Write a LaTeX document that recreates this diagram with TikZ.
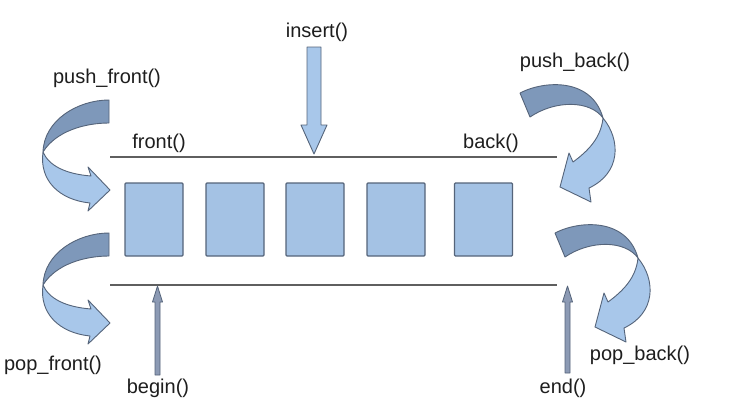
\documentclass[tikz,border=0pt]{standalone}
\usepackage{fontspec}
\setmainfont{Liberation Sans}
\definecolor{boxfill}{RGB}{164,194,228}
\definecolor{boxdraw}{RGB}{85,100,122}
\definecolor{darkpart}{RGB}{126,152,186}
\definecolor{lightpart}{RGB}{168,199,234}
\definecolor{linec}{RGB}{95,95,95}
\definecolor{txt}{RGB}{30,30,30}
\definecolor{thinarrow}{RGB}{140,154,180}
\tikzset{
  elem/.style={draw=boxdraw, fill=boxfill, line width=1.3pt, rounded corners=1pt},
  lbl/.style={font=\fontsize{20}{22}\selectfont, text=txt, inner sep=0pt},
  rail/.style={draw=linec, line width=1.2pt},
  darkface/.style={draw=boxdraw, fill=darkpart, line width=0.9pt, line join=round},
  lightface/.style={draw=boxdraw, fill=lightpart, line width=0.9pt, line join=round},
  thinarr/.style={draw=boxdraw, fill=thinarrow, line width=0.8pt, line join=round},
}
\newcommand{\leftcurl}{%
  \path[lightface] (43,152) .. controls (39,181) and (60,200) .. (90,203)
     -- (88,211) -- (110,190) -- (88,167) -- (91,176)
     .. controls (66,174) and (49,166) .. (43,152) -- cycle;
  \path[darkface] (109,100) .. controls (78,100) and (44,120) .. (43,152)
     .. controls (56,131) and (85,123) .. (109,123) -- cycle;
}
\newcommand{\rightcurl}{%
  \path[lightface] (603,118) .. controls (621,140) and (621,173) .. (589,188)
     -- (591,202) -- (560,187) -- (569,153) -- (573,162)
     .. controls (588,151) and (601,138) .. (603,118) -- cycle;
  \path[darkface] (520,93) .. controls (545,80) and (592,78) .. (603,118)
     .. controls (590,100) and (555,100) .. (530,117) -- cycle;
}
\begin{document}
\begin{tikzpicture}[x=1pt,y=-1pt]
\useasboundingbox (0,0) rectangle (736,405);
\fill[white] (0,0) rectangle (736,405);

% rails
\coordinate (tl) at (110,157); \coordinate (tr) at (557,157);
\coordinate (bl) at (110,285); \coordinate (br) at (557,285);
\draw[rail] (tl) -- (tr);
\draw[rail] (bl) -- (br);

% elements
\node[elem, minimum width=58pt, minimum height=73pt] (e1) at (154,219.5) {};
\node[elem, minimum width=58pt, minimum height=73pt] (e2) at (235,219.5) {};
\node[elem, minimum width=58pt, minimum height=73pt] (e3) at (315,219.5) {};
\node[elem, minimum width=58pt, minimum height=73pt] (e4) at (396,219.5) {};
\node[elem, minimum width=58pt, minimum height=73pt] (e5) at (483.5,219.5) {};

% labels
\node[lbl] (front) at (159,143) {front()};
\node[lbl] (back) at (491,143) {back()};
\node[lbl] (insert) at (317,32) {insert()};
\node[lbl] (pushf) at (107,78) {push\_front()};
\node[lbl] (pushb) at (575,62) {push\_back()};
\node[lbl] (popf) at (53,365) {pop\_front()};
\node[lbl] (popb) at (640,355) {pop\_back()};
\node[lbl] (begin) at (158,388) {begin()};
\node[lbl] (end) at (563,388) {end()};

% insert arrow
\path[lightface] (307,47) -- (321,47) -- (321,125) -- (327,125) -- (314,154)
   -- (301,125) -- (307,125) -- cycle;

% begin / end arrows
\path[thinarr] (155,375) -- (160,375) -- (160,302) -- (162.5,302) -- (157.5,286)
   -- (152.5,302) -- (155,302) -- cycle;
\path[thinarr] (565,373) -- (570,373) -- (570,302) -- (572.5,302) -- (567.5,286)
   -- (562.5,302) -- (565,302) -- cycle;

% curved arrows
\leftcurl
\begin{scope}[yshift=-133pt]
\leftcurl
\end{scope}
\rightcurl
\begin{scope}[xshift=35pt, yshift=-140pt]
\rightcurl
\end{scope}
\end{tikzpicture}
\end{document}
